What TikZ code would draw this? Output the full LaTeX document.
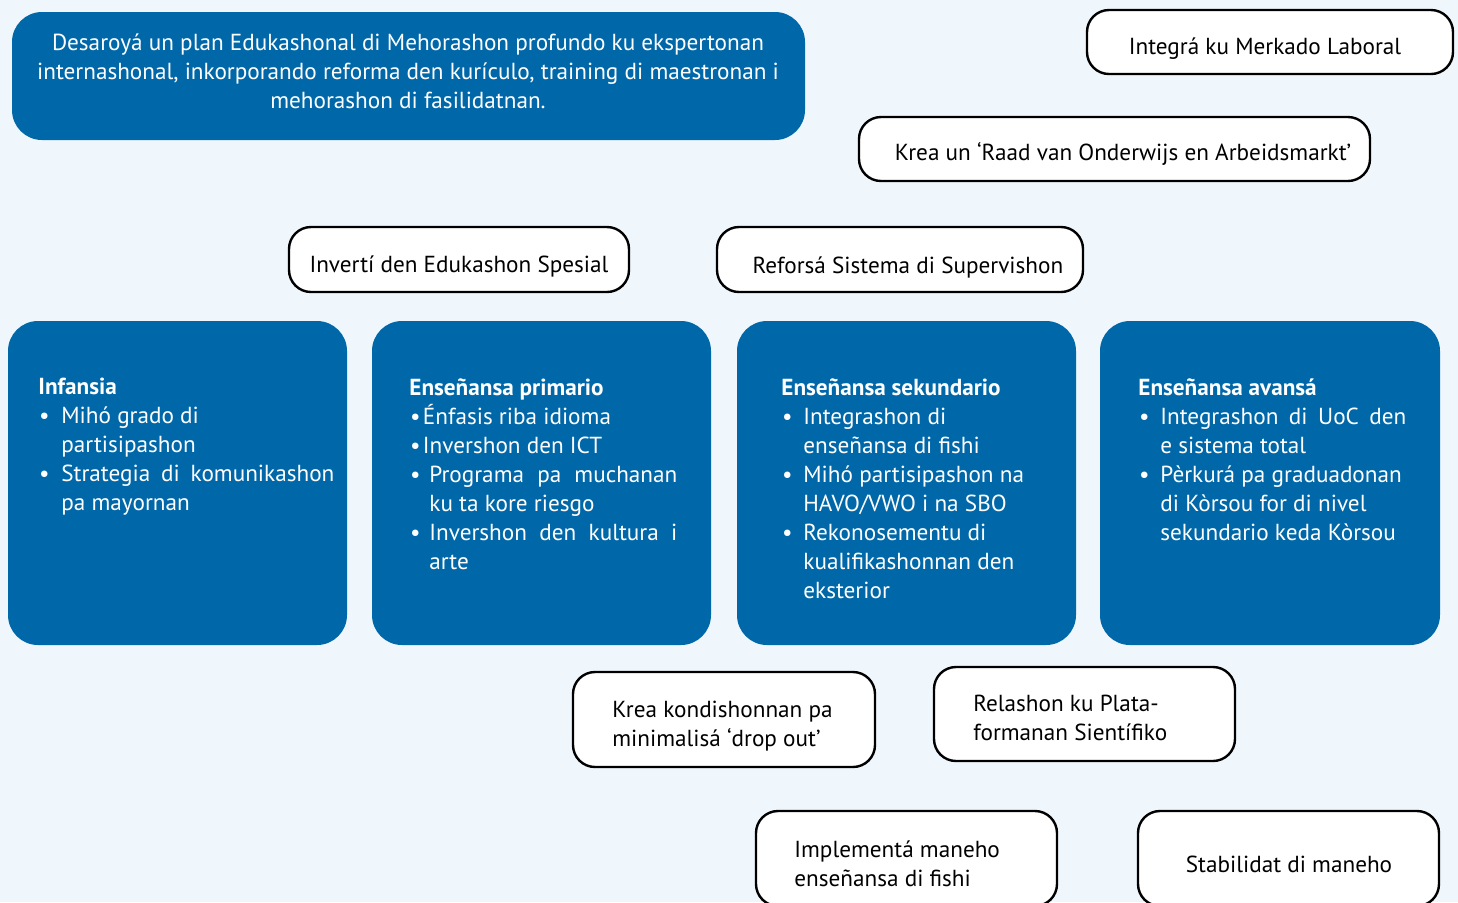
\documentclass[tikz,border=0pt]{standalone}
\usepackage{fontspec}
\setmainfont{PT Sans}
\definecolor{bgblue}{HTML}{EFF7FD}
\definecolor{darkblue}{HTML}{0068A9}
\newcommand{\bitem}[2]{\par\noindent\hangindent=#1\hangafter=1\makebox[#1][l]{\hspace{0.3pt}•}#2\par}
\tikzset{
  bluebox/.style={draw=none, fill=darkblue, rounded corners=15pt, inner sep=0pt},
  whitebox/.style={draw=black, line width=1.2pt, fill=white, rounded corners=11pt, inner sep=0pt},
  txt/.style={font=\fontsize{11.6}{14.5}\selectfont, inner sep=0pt},
  wtxt/.style={txt, text=white},
  btxt/.style={wtxt, anchor=north west, align=justify},
}
\begin{document}
\begin{tikzpicture}[x=0.5pt,y=-0.5pt]
\useasboundingbox (0,0) rectangle (1458,902);
\clip (0,0) rectangle (1458,902);
\fill[bgblue] (0,0) rectangle (1458,902);

% top blue box
\node[bluebox, minimum width=396.5pt, minimum height=64pt] (plan) at (408.5,76) {};
\node[wtxt, align=center] (plantxt) at (408,71) {Desaroyá un plan Edukashonal di Mehorashon profundo ku ekspertonan\\internashonal, inkorporando reforma den kurículo, training di maestronan i\\mehorashon di fasilidatnan.};

% white boxes top
\node[whitebox, minimum width=183pt, minimum height=32pt] (merkado) at (1270,42) {};
\node[txt] (merkadotxt) at (1265,49) {Integrá ku Merkado Laboral};
\node[whitebox, minimum width=255.5pt, minimum height=32pt] (raad) at (1114.5,149) {};
\node[txt] (raadtxt) at (1123,154) {Krea un ‘Raad van Onderwijs en Arbeidsmarkt’};
\node[whitebox, minimum width=170pt, minimum height=32.5pt] (spesial) at (459,259.5) {};
\node[txt] (spesialtxt) at (459,266) {Invertí den Edukashon Spesial};
\node[whitebox, minimum width=183pt, minimum height=32.5pt] (supervishon) at (900,259.5) {};
\node[txt] (supervishontxt) at (908,267) {Reforsá Sistema di Supervishon};

% blue columns
\node[bluebox, minimum width=169.5pt, minimum height=162pt] (infansia) at (177.5,483) {};
\node[bluebox, minimum width=169.5pt, minimum height=162pt] (primario) at (541.5,483) {};
\node[bluebox, minimum width=169.5pt, minimum height=162pt] (sekundario) at (906.5,483) {};
\node[bluebox, minimum width=170pt, minimum height=162pt] (avansa) at (1270,483) {};

\node[btxt, text width=148pt] (infansiatxt) at (38,378) {%
\textbf{Infansia}
\bitem{11.5pt}{Mihó grado di\newline partisipashon}
\bitem{11.5pt}{Strategia di komunikashon\linebreak pa mayornan}};

\node[btxt, text width=134pt] (primariotxt) at (409,378) {%
\textbf{Enseñansa primario}
\bitem{6.8pt}{Énfasis riba idioma}
\bitem{6.8pt}{Invershon den ICT}
\bitem{10pt}{Programa pa muchanan\linebreak ku ta kore riesgo}
\bitem{10pt}{Invershon den kultura i\linebreak arte}};

\node[btxt, text width=128pt] (sekundariotxt) at (781,378) {%
\textbf{Enseñansa sekundario}
\bitem{11pt}{Integrashon di\newline enseñansa di fishi}
\bitem{11pt}{Mihó partisipashon na\newline HAVO/VWO i na SBO}
\bitem{11pt}{Rekonosementu di\newline kualifikashonnan den\newline eksterior}};

\node[btxt, text width=134pt] (avansatxt) at (1138,378) {%
\textbf{Enseñansa avansá}
\bitem{11pt}{Integrashon di UoC den\linebreak e sistema total}
\bitem{11pt}{Pèrkurá pa graduadonan\newline di Kòrsou for di nivel\newline sekundario keda Kòrsou}};

% white boxes bottom
\node[whitebox, minimum width=151pt, minimum height=47.5pt] (dropout) at (724,719.5) {};
\node[txt, anchor=north west, align=left] (dropouttxt) at (612,701) {Krea kondishonnan pa\\minimalisá ‘drop out’};
\node[whitebox, minimum width=150.5pt, minimum height=47pt] (plataforma) at (1084.5,714) {};
\node[txt, anchor=north west, align=left] (plataformatxt) at (973,695) {Relashon ku Plata-\\formanan Sientífiko};
\node[whitebox, minimum width=150.5pt, minimum height=47.5pt] (fishi) at (906.5,858.5) {};
\node[txt, anchor=north west, align=left] (fishitxt) at (794,840) {Implementá maneho\\enseñansa di fishi};
\node[whitebox, minimum width=150.5pt, minimum height=47.5pt] (stabilidat) at (1288.5,858.5) {};
\node[txt] (stabilidattxt) at (1289,864) {Stabilidat di maneho};
\end{tikzpicture}
\end{document}
